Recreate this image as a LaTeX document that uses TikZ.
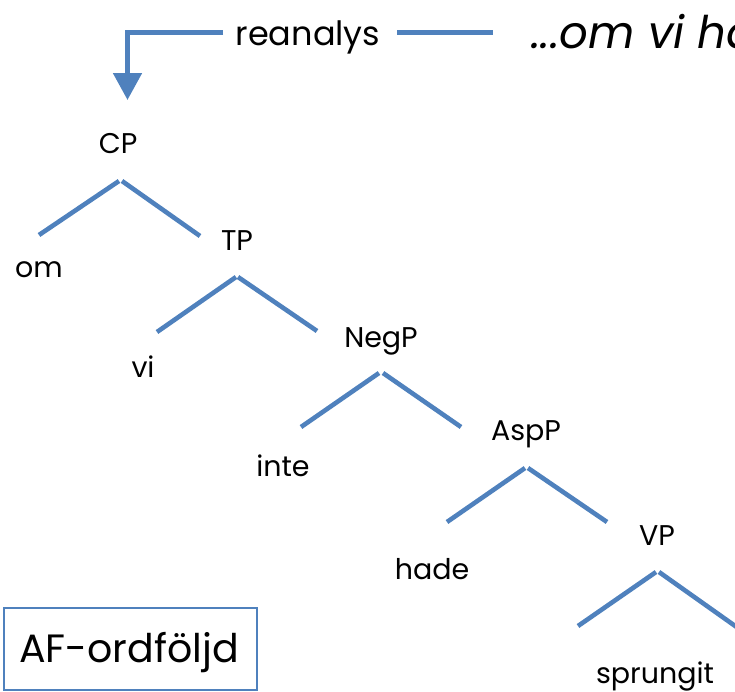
\documentclass[tikz,border=0pt]{standalone}
\usepackage{fontspec}
\setmainfont{Poppins}
\usetikzlibrary{arrows.meta}
\definecolor{lnblue}{HTML}{4F81BD}
\begin{document}
\begin{tikzpicture}[x=1pt,y=-1pt,
  lbl/.style={anchor=base,inner sep=0pt,font=\fontsize{28.5}{34}\selectfont},
  br/.style={draw=lnblue,line width=4.6pt,line cap=butt},
  arr/.style={draw=lnblue,line width=5pt,line join=miter,-{Triangle[width=28pt,length=27pt]}}]
\useasboundingbox (0,0) rectangle (735,691);
\clip (0,0) rectangle (735,691);
% top
\node[anchor=base,inner sep=0pt,font=\fontsize{33.5}{40}\selectfont] (rean) at (308,45) {reanalys};
\node[anchor=base west,inner sep=0pt,font=\fontsize{45}{52}\selectfont\itshape] (sent) at (531,48) {...om vi ha};
\coordinate (a1) at (223,32);
\coordinate (tip) at (127.5,100);
\coordinate (b1) at (397,32);
\coordinate (b2) at (493,32);
\draw[arr] (a1) -| (tip);
\draw[br,line width=5pt] (b1) -- (b2);
% tree labels
\node[lbl] (CP) at (118,153) {CP};
\node[lbl] (om) at (39,277) {om};
\node[lbl] (TP) at (237,250) {TP};
\node[lbl] (vi) at (143,377) {vi};
\node[lbl] (NegP) at (381,347) {NegP};
\node[lbl] (inte) at (283,476) {inte};
\node[lbl] (AspP) at (526,440) {AspP};
\node[lbl] (hade) at (432,579) {hade};
\node[lbl] (VP) at (657,545) {VP};
\node[lbl] (sprungit) at (655,683) {sprungit};
% branch endpoints
\coordinate (cpL1) at (39,235);  \coordinate (cpL2) at (119,181);
\coordinate (cpR1) at (122,181); \coordinate (cpR2) at (200,236);
\coordinate (tpL1) at (157,332); \coordinate (tpL2) at (236,277);
\coordinate (tpR1) at (238,277); \coordinate (tpR2) at (317,331);
\coordinate (ngL1) at (301,427); \coordinate (ngL2) at (379,373);
\coordinate (ngR1) at (383,373); \coordinate (ngR2) at (461,427);
\coordinate (asL1) at (447,522); \coordinate (asL2) at (525,468);
\coordinate (asR1) at (528,468); \coordinate (asR2) at (607,522);
\coordinate (vpL1) at (578,626); \coordinate (vpL2) at (656,572);
\coordinate (vpR1) at (659,572); \coordinate (vpR2) at (738,628);
\draw[br] (cpL1) -- (cpL2);
\draw[br] (cpR1) -- (cpR2);
\draw[br] (tpL1) -- (tpL2);
\draw[br] (tpR1) -- (tpR2);
\draw[br] (ngL1) -- (ngL2);
\draw[br] (ngR1) -- (ngR2);
\draw[br] (asL1) -- (asL2);
\draw[br] (asR1) -- (asR2);
\draw[br] (vpL1) -- (vpL2);
\draw[br] (vpR1) -- (vpR2);
% box
\draw[lnblue,line width=1.6pt] (4,608) rectangle (257,690);
\node[anchor=base,inner sep=0pt,font=\fontsize{39.5}{46}\selectfont] (af) at (129,662) {AF-ordföljd};
\end{tikzpicture}
\end{document}
